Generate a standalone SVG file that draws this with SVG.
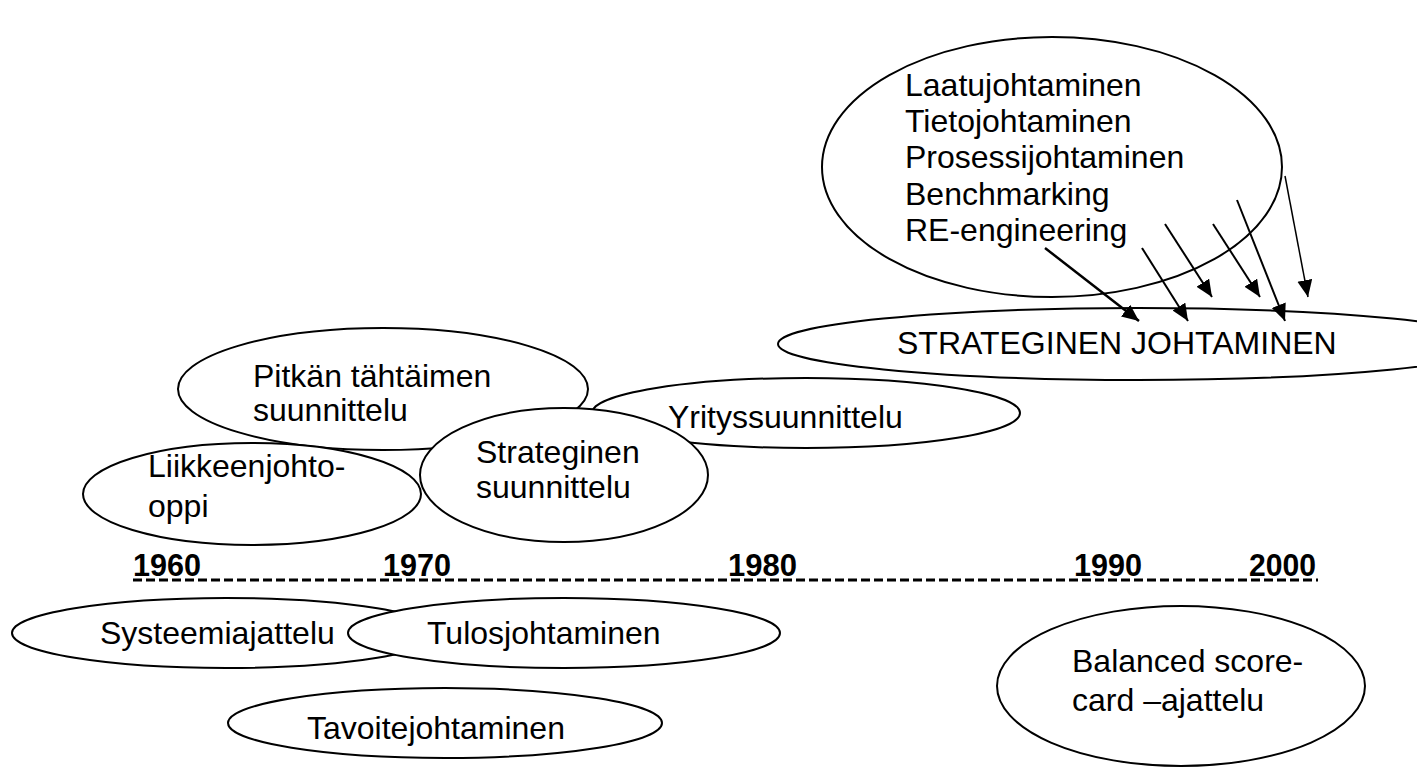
<svg xmlns="http://www.w3.org/2000/svg" width="1417" height="769" viewBox="0 0 1417 769">
<style>
.n{fill:#fff;stroke:#000;stroke-width:2}
.t{font-family:"Liberation Sans",Arial,sans-serif;font-size:32px;fill:#000}
.y{font-family:"Liberation Sans",Arial,sans-serif;font-size:32px;font-weight:bold;fill:#000}
.a{stroke:#000;fill:none}
</style>
<defs>
<marker id="ah" markerUnits="userSpaceOnUse" markerWidth="18" markerHeight="16" refX="17" refY="7.5" orient="auto">
<path d="M0,0 L17,7.5 L0,15 z" fill="#000"/>
</marker>
</defs>
<rect width="1417" height="769" fill="#fff"/>
<g id="pitkan">
<ellipse class="n" cx="383" cy="389" rx="205" ry="61"/>
<text class="t" x="253" y="387">Pitkän tähtäimen</text>
<text class="t" x="253" y="421">suunnittelu</text>
</g>
<g id="yritys">
<ellipse class="n" cx="806" cy="413" rx="214" ry="35"/>
<text class="t" x="668" y="428">Yrityssuunnittelu</text>
</g>
<g id="strateginen-suunnittelu">
<ellipse class="n" cx="564" cy="475" rx="144" ry="67"/>
<text class="t" x="476" y="463">Strateginen</text>
<text class="t" x="476" y="498">suunnittelu</text>
</g>
<g id="liikkeenjohto">
<ellipse class="n" cx="252" cy="494" rx="169" ry="51"/>
<text class="t" x="148" y="477">Liikkeenjohto-</text>
<text class="t" x="148" y="517">oppi</text>
</g>
<g id="laatu">
<ellipse class="n" cx="1052" cy="167" rx="230" ry="130"/>
<text class="t" x="905" y="96">Laatujohtaminen</text>
<text class="t" x="905" y="132">Tietojohtaminen</text>
<text class="t" x="905" y="168">Prosessijohtaminen</text>
<text class="t" x="905" y="205">Benchmarking</text>
<text class="t" x="905" y="241">RE-engineering</text>
</g>
<g id="strateginen-johtaminen">
<ellipse class="n" cx="1138" cy="344" rx="360" ry="36"/>
<text class="t" x="897" y="354">STRATEGINEN JOHTAMINEN</text>
</g>
<g id="timeline">
<line x1="133" y1="580" x2="1318" y2="580" stroke="#000" stroke-width="3" stroke-dasharray="9,4"/>
<text class="y" x="133" y="576" textLength="68" lengthAdjust="spacingAndGlyphs">1960</text>
<text class="y" x="383" y="576" textLength="68" lengthAdjust="spacingAndGlyphs">1970</text>
<text class="y" x="728" y="576" textLength="69" lengthAdjust="spacingAndGlyphs">1980</text>
<text class="y" x="1074" y="576" textLength="68" lengthAdjust="spacingAndGlyphs">1990</text>
<text class="y" x="1249" y="576" textLength="67" lengthAdjust="spacingAndGlyphs">2000</text>
</g>
<g id="systeemi">
<ellipse class="n" cx="226" cy="633" rx="214" ry="35"/>
<text class="t" x="100" y="644">Systeemiajattelu</text>
</g>
<g id="tulos">
<ellipse class="n" cx="564" cy="633" rx="216" ry="35"/>
<text class="t" x="427" y="644">Tulosjohtaminen</text>
</g>
<g id="tavoite">
<ellipse class="n" cx="445" cy="723" rx="217" ry="35"/>
<text class="t" x="307" y="739">Tavoitejohtaminen</text>
</g>
<g id="balanced">
<ellipse class="n" cx="1181" cy="686" rx="184" ry="80"/>
<text class="t" x="1072" y="672">Balanced score-</text>
<text class="t" x="1072" y="711">card –ajattelu</text>
</g>
<g id="connectors">
<line class="a" x1="1045" y1="248" x2="1139" y2="321" stroke-width="2.5" marker-end="url(#ah)"/>
<line class="a" x1="1142" y1="248" x2="1188" y2="321" stroke-width="2" marker-end="url(#ah)"/>
<line class="a" x1="1165" y1="224" x2="1212" y2="297" stroke-width="2" marker-end="url(#ah)"/>
<line class="a" x1="1213" y1="224" x2="1260" y2="297" stroke-width="2" marker-end="url(#ah)"/>
<line class="a" x1="1237" y1="200" x2="1285" y2="321" stroke-width="2" marker-end="url(#ah)"/>
<line class="a" x1="1285" y1="176" x2="1308" y2="297" stroke-width="1.5" marker-end="url(#ah)"/>
</g>
</svg>
